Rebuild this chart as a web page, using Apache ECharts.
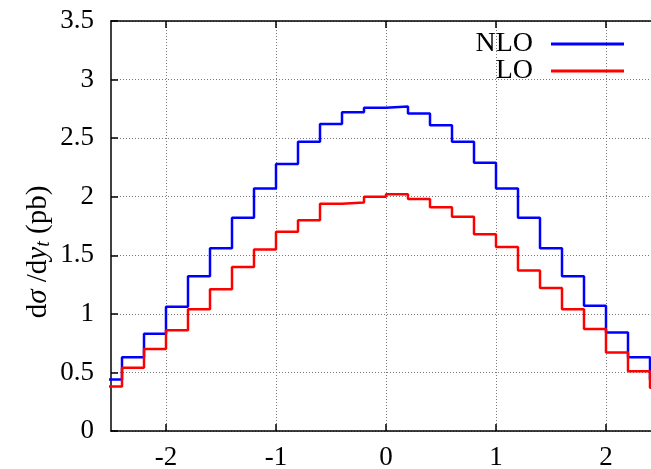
<!DOCTYPE html>
<html>
<head>
<meta charset="utf-8">
<script src="https://cdn.jsdelivr.net/npm/echarts@6/dist/echarts.min.js"></script>
<style>
html,body{margin:0;padding:0;background:#fff;}
#chart{width:651px;height:469px;}
</style>
</head>
<body>
<div id="chart"></div>
<script>
// Bin lower edges (bin width 0.2)
var binLow = [-2.6, -2.4, -2.2, -2.0, -1.8, -1.6, -1.4, -1.2, -1.0, -0.8, -0.6, -0.4, -0.2,
              0.0, 0.2, 0.4, 0.6, 0.8, 1.0, 1.2, 1.4, 1.6, 1.8, 2.0, 2.2, 2.4];
var binHighLast = 2.6;
var nloValues = [0.44, 0.63, 0.83, 1.06, 1.32, 1.56, 1.82, 2.07, 2.28, 2.47, 2.62, 2.72, 2.76,
                 2.77, 2.71, 2.61, 2.47, 2.29, 2.07, 1.82, 1.56, 1.32, 1.07, 0.84, 0.63, 0.44];
var loValues  = [0.38, 0.54, 0.70, 0.86, 1.04, 1.21, 1.40, 1.55, 1.70, 1.80, 1.94, 1.95, 2.00,
                 2.02, 1.98, 1.91, 1.83, 1.68, 1.57, 1.37, 1.22, 1.04, 0.87, 0.67, 0.51, 0.37];
var seriesNames = ['NLO', 'LO'];
var xTicks = [-2, -1, 0, 1, 2];
var xMin = -2.5, xMax = 2.5;
var yMin = 0, yMax = 3.5, yStep = 0.5;

function stepData(vals) {
  var d = binLow.map(function (x, i) { return [x, vals[i]]; });
  d.push([binHighLast, vals[vals.length - 1]]);
  return d;
}

var FONT = 'Liberation Serif';
var chart = echarts.init(document.getElementById('chart'), null, {renderer: 'canvas'});
var gridLine = {show: true, lineStyle: {color: '#7a7a7a', type: [1, 2], width: 1}};
var option = {
  animation: false,
  backgroundColor: '#ffffff',
  grid: {left: 111, top: 21, width: 550, height: 410, containLabel: false, outerBoundsMode: 'none'},
  legend: [
    {
      data: ['NLO'], right: 22, top: 25, orient: 'vertical', align: 'right',
      icon: 'rect', itemWidth: 73, itemHeight: 3,
      textStyle: {fontFamily: FONT, fontSize: 28, color: '#000', padding: [0, 13, 0, 0]},
      selectedMode: false
    },
    {
      data: ['LO'], right: 22, top: 52, orient: 'vertical', align: 'right',
      icon: 'rect', itemWidth: 73, itemHeight: 3,
      textStyle: {fontFamily: FONT, fontSize: 28, color: '#000', padding: [0, 13, 0, 0]},
      selectedMode: false
    }
  ],
  xAxis: [
    {
      type: 'value', min: xMin, max: xMax, position: 'bottom',
      axisLine: {show: true, onZero: false, lineStyle: {color: '#000', width: 1.5}},
      axisTick: {show: true, inside: true, length: 7, customValues: xTicks, lineStyle: {color: '#000', width: 1.5}},
      axisLabel: {show: true, customValues: xTicks, margin: 13, fontFamily: FONT, fontSize: 27, color: '#000'},
      splitLine: gridLine
    },
    {
      type: 'value', min: xMin, max: xMax, position: 'top',
      axisLine: {show: true, onZero: false, lineStyle: {color: '#000', width: 1.5}},
      axisTick: {show: true, inside: true, length: 7, customValues: xTicks, lineStyle: {color: '#000', width: 1.5}},
      axisLabel: {show: false},
      splitLine: {show: false}
    }
  ],
  yAxis: {
    type: 'value', min: yMin, max: yMax, interval: yStep,
    axisLine: {show: true, onZero: false, lineStyle: {color: '#000', width: 1.5}},
    axisTick: {show: true, inside: true, length: 7, lineStyle: {color: '#000', width: 1.5}},
    axisLabel: {margin: 17, fontFamily: FONT, fontSize: 27, color: '#000'},
    splitLine: gridLine
  },
  graphic: [{
    type: 'text',
    x: 38, y: 252,
    rotation: Math.PI / 2,
    style: {
      text: '{r|d}{i|σ}{r| /d}{i|y}{s|t}{r| (pb)}',
      align: 'center', verticalAlign: 'middle',
      rich: {
        r: {fontFamily: FONT, fontSize: 29, fill: '#000'},
        i: {fontFamily: FONT, fontSize: 29, fontStyle: 'italic', fill: '#000'},
        s: {fontFamily: FONT, fontSize: 20, fontStyle: 'italic', fill: '#000', padding: [12, 0, 0, 0]}
      }
    }
  }],
  series: [
    {
      name: seriesNames[0], type: 'line', step: 'end', showSymbol: false,
      data: stepData(nloValues), color: '#0000ff',
      lineStyle: {color: '#0000ff', width: 2.5}, clip: true
    },
    {
      name: seriesNames[1], type: 'line', step: 'end', showSymbol: false,
      data: stepData(loValues), color: '#ff0000',
      lineStyle: {color: '#ff0000', width: 2.5}, clip: true
    }
  ]
};
chart.setOption(option);
</script>
</body>
</html>
